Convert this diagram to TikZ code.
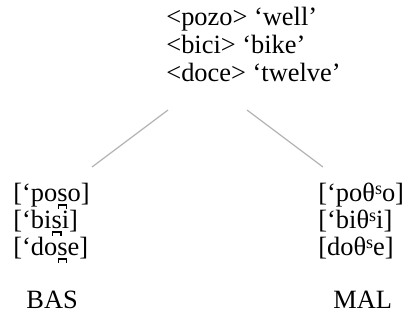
\documentclass[tikz,border=0pt]{standalone}
\usepackage{fontspec}
\setmainfont{Liberation Serif}
\usetikzlibrary{positioning}
\newcommand\sibil{\raisebox{0.55ex}{\fontsize{9}{9}\selectfont s}}
\newcommand\dents{\ooalign{s\cr\hidewidth\rule[-0.29em]{0.065em}{0.17em}\rule[-0.18em]{0.24em}{0.065em}\rule[-0.29em]{0.065em}{0.17em}\hidewidth\cr}}

\begin{document}
\begin{tikzpicture}[
    x=0.5pt, y=-0.5pt,
    font=\fontsize{13.2}{14}\selectfont,
    word/.style={anchor=base west, inner sep=0pt},
    branch/.style={draw=gray!60, line width=0.6pt}
]
\useasboundingbox (0,0) rectangle (412,329);
% spelling and gloss
\node[word] (pozo) at (166,25) {<pozo> ‘well’};
\node[word, below=14pt of pozo.base west, anchor=base west] (bici) {<bici> ‘bike’};
\node[word, below=14pt of bici.base west, anchor=base west] (doce) {<doce> ‘twelve’};
% two dialects
\node[word] (bas1) at (13,201) {[‘po\dents o]};
\node[word, below=13.5pt of bas1.base west, anchor=base west] (bas2) {[‘bi\dents i]};
\node[word, below=13.5pt of bas2.base west, anchor=base west] (bas3) {[‘do\dents e]};
\node[word] (mal1) at (318,201) {[‘poθ\sibil o]};
\node[word, below=13.5pt of mal1.base west, anchor=base west] (mal2) {[‘biθ\sibil i]};
\node[word, below=13.5pt of mal2.base west, anchor=base west] (mal3) {[doθ\sibil e]};
\node[word] (bas) at (26,308) {BAS};
\node[word] (mal) at (333,308) {MAL};
% branches
\coordinate (tl) at (168,110);
\coordinate (tr) at (247,110);
\coordinate (bl) at (92,167);
\coordinate (br) at (323,167);
\draw[branch] (tl) -- (bl);
\draw[branch] (tr) -- (br);
\end{tikzpicture}
\end{document}
